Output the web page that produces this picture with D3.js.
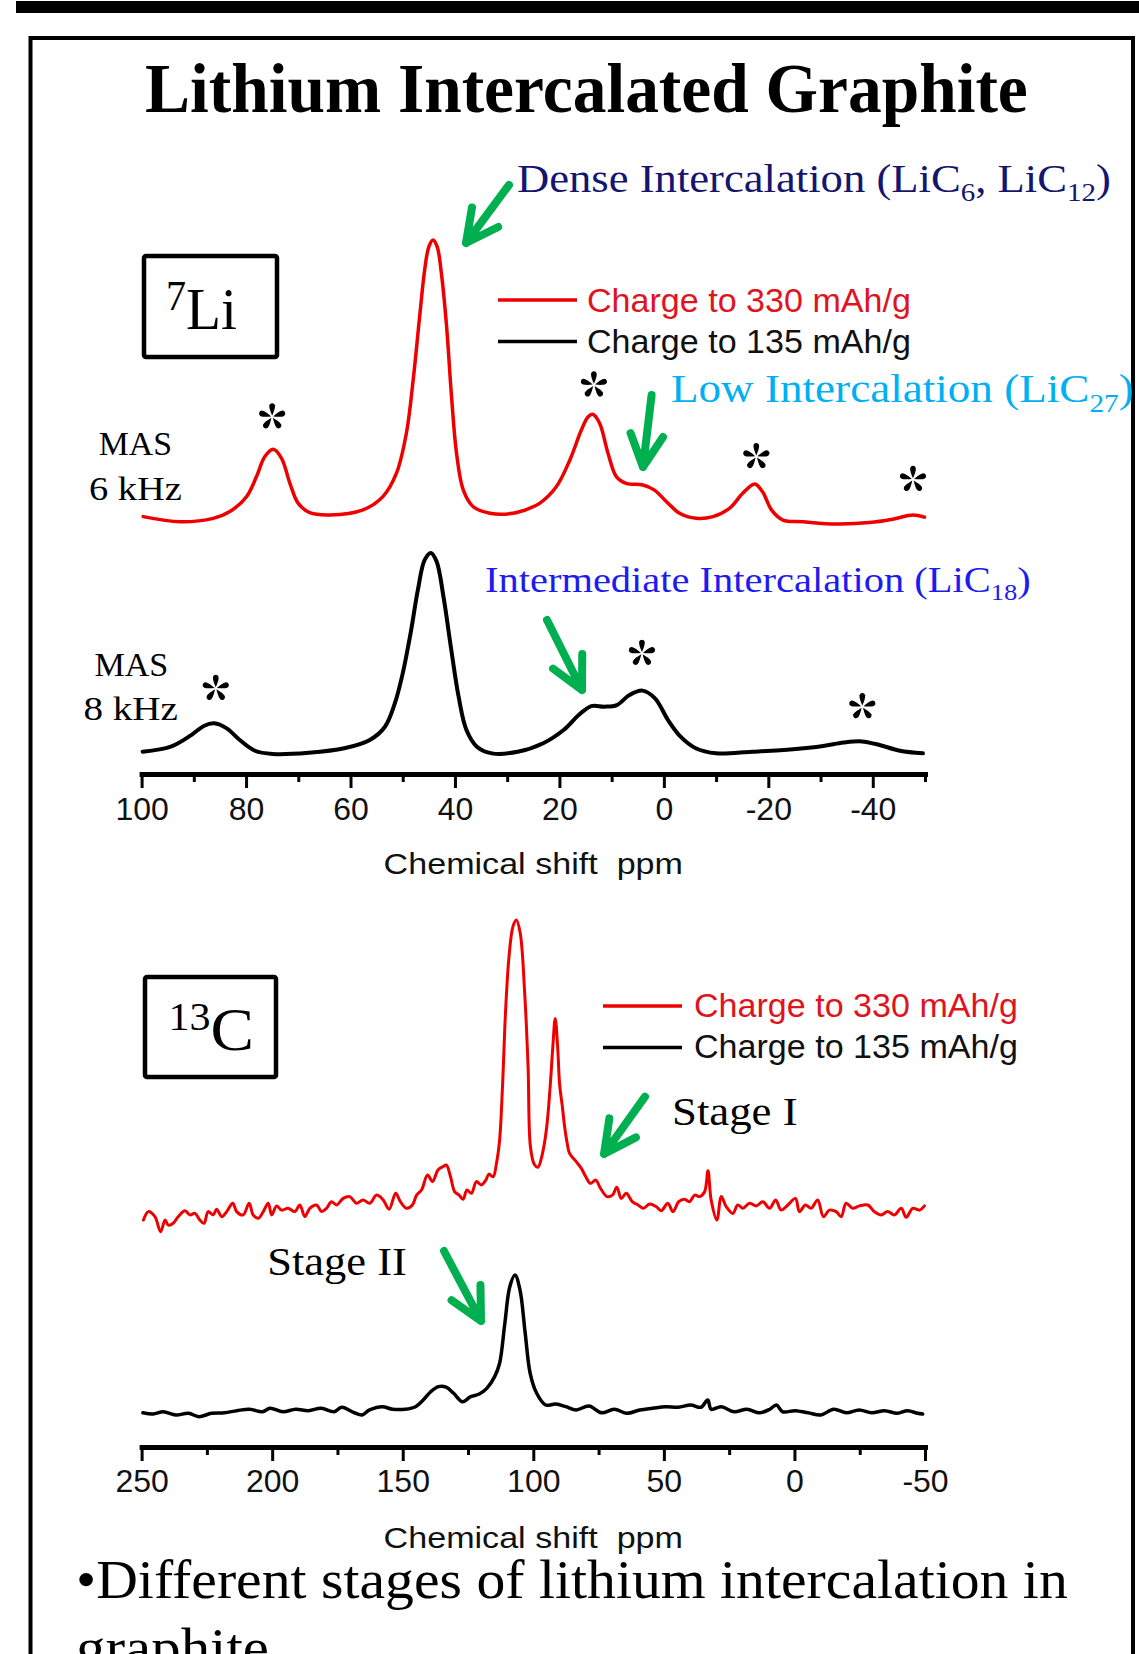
<!DOCTYPE html>
<html>
<head>
<meta charset="utf-8">
<script src="https://cdn.jsdelivr.net/npm/d3@7"></script>
<style>
  body { margin: 0; background: #fff; }
  svg { display: block; }
  text { white-space: pre; }
</style>
</head>
<body>
<svg id="chart" width="1139" height="1654"></svg>
<script>
// ---- data (ppm, relative intensity) ----
const li7Ticks = [100, 80, 60, 40, 20, 0, -20, -40];
const li7MinorTicks = [90, 70, 50, 30, 10, -10, -30, -50];
const c13Ticks = [250, 200, 150, 100, 50, 0, -50];
const c13MinorTicks = [225, 175, 125, 75, 25, -25];

const legendLabels = ["Charge to 330 mAh/g", "Charge to 135 mAh/g"];

// 7Li MAS 6 kHz, charged to 330 mAh/g
const li7Charge330 = [
  [99.7, 1.9], [92.6, 0.1], [86.3, 1.3], [83.1, 3.7], [79.9, 9.0], [78.0, 16.1], [76.4, 23.2],
  [74.8, 25.8], [73.2, 22.6], [71.6, 13.7], [70.0, 6.6], [67.8, 3.3], [64.0, 2.5], [57.6, 4.3],
  [53.8, 9.0], [51.2, 17.3], [49.3, 31.5], [48.0, 50.4], [46.7, 74.0], [45.8, 89.4], [45.0, 97.6],
  [44.2, 100], [43.4, 97.6], [42.6, 88.2], [41.6, 69.3], [40.7, 45.6], [39.7, 24.4], [38.4, 11.3],
  [36.5, 5.4], [33.3, 3.1], [28.9, 3.1], [25.7, 4.9], [23.8, 6.6], [20.6, 12.5], [18.0, 22.0],
  [15.8, 32.6], [14.5, 37.3], [13.6, 38.2], [12.3, 35.0], [10.7, 24.4], [9.1, 16.1], [7.2, 13.7],
  [4.0, 13.1], [1.8, 11.3], [-0.5, 7.2], [-3.0, 3.1], [-6.2, 1.3], [-9.4, 1.9], [-12.6, 4.9],
  [-15.1, 10.2], [-17.4, 13.5], [-18.9, 10.7], [-20.6, 4.3], [-22.8, 0.7], [-26.6, 0.1],
  [-33.0, -0.7], [-39.4, -0.2], [-43.8, 1.0], [-47.7, 2.5], [-49.9, 1.7]
];

// 7Li MAS 8 kHz, charged to 135 mAh/g
const li7Charge135 = [
  [99.8, 2.1], [94.4, 4.6], [90.5, 10.3], [88.1, 14.8], [86.1, 16.1], [83.7, 13.6], [81.2, 7.9],
  [78.3, 2.6], [74.9, 1.0], [68.0, 1.6], [61.2, 3.8], [56.3, 7.9], [53.4, 14.4], [51.5, 26.0],
  [50.0, 40.7], [48.5, 60.4], [47.1, 81.8], [45.8, 96.6], [44.6, 100], [43.5, 95.7], [42.2, 78.5],
  [40.7, 52.2], [39.3, 29.2], [37.8, 12.8], [35.8, 4.6], [32.9, 1.3], [28.0, 2.1], [23.1, 6.3],
  [19.2, 12.8], [16.3, 20.2], [13.9, 24.6], [11.4, 24.3], [9.0, 25.1], [6.6, 30.0], [4.1, 32.2],
  [1.7, 28.4], [-0.8, 17.7], [-3.2, 9.5], [-6.1, 3.8], [-10.0, 1.3], [-16.9, 2.1], [-24.7, 3.3],
  [-30.5, 4.9], [-34.4, 6.6], [-37.9, 7.2], [-41.3, 5.4], [-45.2, 2.6], [-49.6, 1.3]
];

// 13C, charged to 330 mAh/g
const c13Charge330 = [
  [249.3, 0], [247.4, 2.8], [244.9, 1.1], [242.7, -3.9], [241.0, 0], [239.8, -1.7], [237.9, -1.1],
  [236.0, 1.1], [233.4, 3.1], [231.5, 1.7], [229.6, 2.2], [227.7, 0], [226.1, -1.1], [224.5, 2.8],
  [222.6, 1.7], [221.3, 3.6], [219.3, 1.1], [217.4, 2.8], [215.1, 5.6], [213.6, 2.8], [211.1, 1.7],
  [208.8, 5.6], [207.3, 1.7], [205.3, 0.6], [203.4, 2.8], [201.5, 5.6], [200.2, 1.7], [198.3, 4.7],
  [196.4, 3.3], [193.9, 3.9], [191.3, 2.8], [189.4, 5.0], [187.5, 1.1], [185.6, 3.9], [183.0, 5.0],
  [181.1, 2.8], [179.2, 3.9], [177.3, 6.1], [175.3, 5.0], [172.8, 7.2], [170.3, 7.8], [167.7, 5.6],
  [165.2, 6.7], [162.6, 5.6], [160.0, 8.3], [157.5, 6.7], [155.2, 3.6], [152.7, 8.9], [150.9, 6.1],
  [148.6, 3.9], [146.3, 5.0], [144.7, 8.3], [142.8, 10.0], [140.5, 15.0], [138.6, 12.8], [136.5, 16.7],
  [134.6, 17.8], [133.3, 18.3], [131.7, 14.4], [130.1, 9.4], [128.4, 8.3], [126.9, 6.9], [125.4, 10.0],
  [123.7, 8.9], [121.8, 12.8], [119.9, 11.7], [118.2, 13.3], [117.0, 15.3], [115.4, 14.4], [114.1, 18.9],
  [112.9, 26.7], [111.8, 44.4], [110.6, 70.0], [109.3, 87.8], [107.8, 97.8], [106.5, 100], [105.0, 95.6],
  [103.3, 75.6], [102.0, 51.1], [101.1, 24.4], [99.6, 18.5], [98.2, 17.6], [96.8, 21.0], [95.0, 30.0],
  [93.5, 45.0], [92.5, 58.0], [91.6, 67.2], [90.7, 58.0], [89.9, 45.0], [88.9, 38.0], [88.0, 31.1],
  [87.0, 25.5], [86.1, 22.2], [83.5, 19.4], [81.6, 17.2], [79.9, 14.4], [78.1, 12.2], [76.1, 13.3],
  [74.3, 10.6], [71.8, 7.8], [69.7, 8.3], [68.0, 10.9], [66.3, 7.2], [64.4, 8.9], [62.1, 6.1],
  [59.9, 5.0], [57.8, 3.9], [55.5, 5.3], [52.9, 4.4], [51.0, 3.1], [48.5, 5.6], [46.5, 2.8],
  [44.3, 6.1], [42.1, 6.9], [40.2, 6.1], [38.2, 8.3], [36.3, 7.8], [34.4, 9.4], [33.1, 16.4],
  [31.9, 6.7], [29.7, 0], [28.0, 7.8], [26.1, 4.4], [23.6, 2.2], [21.7, 5.0], [19.7, 3.9],
  [17.2, 5.6], [14.6, 4.7], [12.1, 6.1], [9.5, 3.9], [7.2, 6.7], [5.1, 3.3], [2.5, 5.0],
  [-0.4, 7.2], [-1.9, 2.8], [-4.2, 5.0], [-6.4, 3.9], [-8.9, 6.7], [-11.1, 1.1], [-13.4, 3.3],
  [-16.0, 2.8], [-17.9, 1.1], [-19.8, 5.6], [-22.3, 3.9], [-24.9, 4.7], [-28.1, 5.0], [-30.6, 2.8],
  [-33.2, 1.7], [-35.7, 2.8], [-38.3, 1.7], [-40.9, 3.9], [-42.8, 0.9], [-45.3, 3.9], [-47.9, 3.3],
  [-49.8, 4.7]
];

// 13C, charged to 135 mAh/g
const c13Charge135 = [
  [249.5, 2.3], [245.6, 1.4], [241.7, 3.0], [236.9, 0.7], [232.0, 1.9], [228.1, -0.5], [223.2, 1.9],
  [218.3, 2.3], [213.5, 3.8], [208.6, 4.8], [203.7, 3.0], [200.8, 5.5], [195.9, 3.0], [191.0, 4.8],
  [186.1, 3.8], [181.2, 5.5], [176.3, 3.0], [173.4, 6.2], [168.5, 2.3], [165.6, 0.7], [162.7, 4.3],
  [157.8, 6.6], [153.9, 4.8], [149.0, 4.8], [145.1, 6.6], [142.2, 11.3], [139.3, 17.2], [136.3, 20.8],
  [133.4, 20.4], [130.5, 16.1], [127.1, 10.1], [124.0, 13.7], [120.7, 15.6], [117.8, 19.6], [114.8, 27.9],
  [112.9, 37.4], [110.9, 65.7], [109.0, 91.7], [107.0, 100], [105.1, 89.4], [103.1, 58.7], [101.2, 30.3],
  [98.7, 16.1], [95.3, 7.8], [91.4, 8.5], [87.5, 6.6], [83.6, 4.3], [78.7, 7.1], [73.9, 2.3],
  [69.0, 4.8], [64.1, 1.9], [59.2, 4.3], [54.3, 5.5], [49.4, 6.6], [44.5, 6.2], [39.7, 7.8],
  [35.8, 6.2], [33.2, 11.3], [31.9, 4.8], [28.0, 6.6], [23.1, 3.0], [18.2, 4.8], [13.3, 2.3],
  [9.4, 4.8], [6.9, 7.8], [4.5, 3.0], [-0.3, 3.8], [-5.2, 2.3], [-10.1, 0.7], [-15.0, 4.8],
  [-19.9, 2.3], [-24.8, 4.3], [-29.6, 2.3], [-34.5, 3.8], [-39.4, 1.9], [-43.3, 3.8], [-47.2, 1.9],
  [-49.1, 1.4]
];

// spinning sidebands marked with asterisks (ppm, intensity level of the mark)
const li7Stars330 = [[75.0, 37.3], [13.4, 48.6], [-17.7, 23.2], [-47.7, 15.1]];
const li7Stars135 = [[85.8, 33.3], [4.2, 50.6], [-38.0, 24.3]];

// ---- layout ----
const W = 1139, H = 1654;
const SERIF = '"Liberation Serif", "Times New Roman", serif';
const SANS = '"Liberation Sans", Arial, sans-serif';
const RED = "#ee0000", GREEN = "#00b050";

const svg = d3.select("#chart");

const xLi = d3.scaleLinear().domain([100, -50]).range([141.6, 925]);
const xC = d3.scaleLinear().domain([250, -50]).range([141.6, 925]);
const yLi330 = d3.scaleLinear().domain([0, 100]).range([522, 240]);
const yLi135 = d3.scaleLinear().domain([0, 100]).range([756, 553]);
const yC330 = d3.scaleLinear().domain([0, 100]).range([1220, 920]);
const yC135 = d3.scaleLinear().domain([0, 100]).range([1416, 1275]);

// page decoration
svg.append("rect").attr("x", 16).attr("y", 1).attr("width", W - 16).attr("height", 12).attr("fill", "#000");
svg.append("path")
  .attr("d", `M30.5,${H + 5} V38 H1133 V${H + 5}`)
  .attr("fill", "none").attr("stroke", "#000").attr("stroke-width", 4);

// text fitted to a measured width
function label(x, y, width, font, size, color, parts, weight) {
  const t = svg.append("text")
    .attr("font-family", font)
    .attr("font-size", size)
    .attr("font-weight", weight || "normal")
    .attr("fill", color);
  parts.forEach(p => {
    const s = t.append("tspan").text(p.text);
    if (p.size) s.attr("font-size", p.size);
    if (p.dy) s.attr("dy", p.dy);
  });
  const bb = t.node().getBBox();
  const k = width / bb.width;
  t.attr("transform", `translate(${x - bb.x * k},${y}) scale(${k},1)`);
  return t;
}

function drawTrace(data, x, y, color, width) {
  const line = d3.line()
    .x(d => x(d[0]))
    .y(d => y(d[1]))
    .curve(d3.curveCatmullRom.alpha(0.5));
  svg.append("path")
    .datum(data)
    .attr("d", line)
    .attr("fill", "none")
    .attr("stroke", color)
    .attr("stroke-width", width)
    .attr("stroke-linejoin", "round")
    .attr("stroke-linecap", "round");
}

function drawAxis(x, y, major, minor, pad, title, titleY) {
  const g = svg.append("g").attr("transform", `translate(0,${y})`);
  g.append("g")
    .call(d3.axisBottom(x).tickValues(minor).tickSize(8).tickSizeOuter(0).tickFormat(""))
    .call(a => a.select(".domain").remove());
  const gm = g.append("g")
    .call(d3.axisBottom(x).tickValues(major).tickSize(14).tickSizeOuter(0)
      .tickPadding(pad).tickFormat(d => String(d)));
  gm.select(".domain").attr("stroke-width", 5).attr("stroke-linecap", "square");
  g.selectAll(".tick line").attr("stroke-width", 3).attr("stroke", "#000");
  gm.selectAll(".tick text")
    .attr("font-family", SANS).attr("font-size", 32).attr("fill", "#111");
  label(383.6, titleY, 299.4, SANS, 30, "#111", [{ text: title }]);
}

// five teardrop asterisk
function drawStars(list, x, y) {
  const petal = "M0,-1.2 C-1.6,-5 -3.2,-9 -2.8,-11.5 A2.9,2.9 0 0 1 2.8,-11.5 C3.2,-9 1.6,-5 0,-1.2 Z";
  list.forEach(d => {
    const g = svg.append("g").attr("transform", `translate(${x(d[0])},${y(d[1])})`);
    d3.range(5).forEach(i => {
      g.append("path").attr("d", petal).attr("fill", "#000").attr("transform", `rotate(${i * 72})`);
    });
  });
}

function drawArrow(tail, tip) {
  const a = Math.atan2(tail[1] - tip[1], tail[0] - tip[0]);
  const L = 36, s = 27 * Math.PI / 180;
  const p1 = [tip[0] + L * Math.cos(a + s), tip[1] + L * Math.sin(a + s)];
  const p2 = [tip[0] + L * Math.cos(a - s), tip[1] + L * Math.sin(a - s)];
  svg.append("path")
    .attr("d", `M${tail}L${tip}M${p1}L${tip}L${p2}`)
    .attr("fill", "none").attr("stroke", GREEN).attr("stroke-width", 8)
    .attr("stroke-linecap", "round").attr("stroke-linejoin", "round");
}

function drawLegend(x0, y0, textX, textY) {
  [RED, "#000"].forEach((c, i) => {
    svg.append("line").attr("x1", x0).attr("x2", x0 + 79)
      .attr("y1", y0 + i * 41.5).attr("y2", y0 + i * 41.5)
      .attr("stroke", c).attr("stroke-width", 3.5);
    label(textX, textY + i * 41.5, 324, SANS, 33, i ? "#111" : "#e0141e", [{ text: legendLabels[i] }]);
  });
}

function drawBox(x, y, w, h) {
  svg.append("rect").attr("x", x).attr("y", y).attr("width", w).attr("height", h).attr("rx", 2)
    .attr("fill", "none").attr("stroke", "#000").attr("stroke-width", 4.5);
}

// ---- title ----
label(145, 112, 883, SERIF, 70, "#000", [{ text: "Lithium Intercalated Graphite" }], "bold");

// ---- 7Li panel ----
drawBox(144, 256, 133, 101);
label(166, 329, 71, SERIF, 60, "#000", [{ text: "7", size: 42, dy: -19 }, { text: "Li", dy: 19 }]);

drawTrace(li7Charge330, xLi, yLi330, RED, 3.5);
drawTrace(li7Charge135, xLi, yLi135, "#000", 4);
drawAxis(xLi, 774, li7Ticks, li7MinorTicks, 9, "Chemical shift  ppm", 874);
drawStars(li7Stars330, xLi, yLi330);
drawStars(li7Stars135, xLi, yLi135);
drawLegend(498, 300, 587, 311.7);

label(98.7, 455, 73.3, SERIF, 34, "#000", [{ text: "MAS" }]);
label(89, 500, 93, SERIF, 34, "#000", [{ text: "6 kHz" }]);
label(94.4, 676, 74, SERIF, 34, "#000", [{ text: "MAS" }]);
label(83.5, 720, 94.5, SERIF, 34, "#000", [{ text: "8 kHz" }]);

label(517, 192, 594, SERIF, 40, "#151570", [
  { text: "Dense Intercalation (LiC" }, { text: "6", size: 26, dy: 9 },
  { text: ", LiC", dy: -9 }, { text: "12", size: 26, dy: 9 }, { text: ")", dy: -9 }
]);
label(671, 402, 463, SERIF, 40, "#00b0f0", [
  { text: "Low Intercalation (LiC" }, { text: "27", size: 26, dy: 10 }, { text: ")", dy: -10 }
]);
label(485, 592, 546, SERIF, 35, "#1c1cf0", [
  { text: "Intermediate Intercalation (LiC" }, { text: "18", size: 23, dy: 8 }, { text: ")", dy: -8 }
]);

drawArrow([509, 185], [466, 243]);
drawArrow([651.6, 395], [643, 467]);
drawArrow([547, 620], [582, 690]);

// ---- 13C panel ----
drawBox(145, 977, 131, 100);
label(168.5, 1050, 85.5, SERIF, 62, "#000", [{ text: "13", size: 40, dy: -20 }, { text: "C", dy: 20 }]);

drawTrace(c13Charge330, xC, yC330, RED, 3);
drawTrace(c13Charge135, xC, yC135, "#000", 3.5);
drawAxis(xC, 1447, c13Ticks, c13MinorTicks, 8, "Chemical shift  ppm", 1548);
drawLegend(603, 1006, 694, 1016.7);

label(672, 1125, 125.6, SERIF, 40, "#000", [{ text: "Stage I" }]);
label(267.3, 1275, 139.5, SERIF, 40, "#000", [{ text: "Stage II" }]);
drawArrow([645, 1096.7], [604, 1154]);
drawArrow([444, 1251], [481, 1321]);

// ---- bullet text ----
label(76, 1598, 992, SERIF, 55, "#000", [{ text: "\u2022Different stages of lithium intercalation in" }]);
label(76, 1666, 193, SERIF, 55, "#000", [{ text: "graphite" }]);
</script>
</body>
</html>
